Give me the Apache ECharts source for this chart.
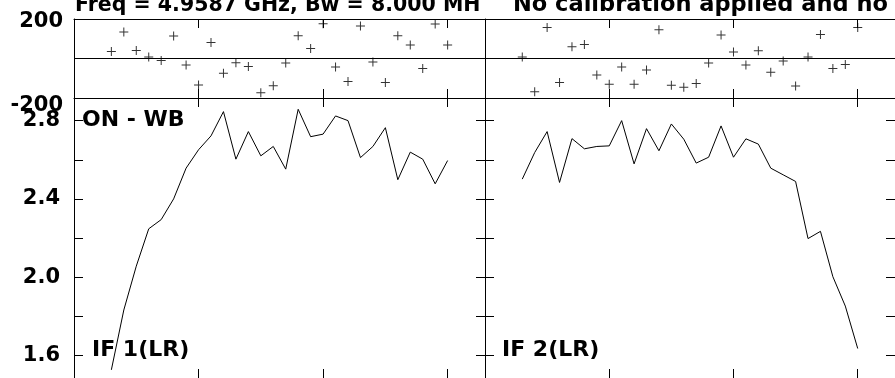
<!DOCTYPE html>
<html>
<head>
<meta charset="utf-8">
<script src="https://cdn.jsdelivr.net/npm/echarts@6/dist/echarts.min.js"></script>
<style>
html,body{margin:0;padding:0;background:#fff;}
#chart{width:895px;height:378px;}
</style>
</head>
<body>
<div id="chart"></div>
<script>
// ---- data ----
const channels = [3,4,5,6,7,8,9,10,11,12,13,14,15,16,17,18,19,20,21,22,23,24,25,26,27,28,29,30];
const phaseIF1 = [36,134,41,8,-10,114,-33,-134,81,-75,-21,-40,-173,-138,-23,115,51,176,-43,-117,164,-18,-121,115,68,-50,175,68];
const phaseIF2 = [8,-168,157,-121,60,71,-84,-131,-43,-131,-58,146,-136,-146,-126,-23,119,33,-33,39,-70,-13,-139,8,122,-50,-30,157];
const ampIF1 = [1.526,1.832,2.056,2.247,2.294,2.400,2.557,2.651,2.722,2.846,2.603,2.744,2.620,2.668,2.552,2.858,2.718,2.731,2.824,2.800,2.611,2.668,2.764,2.498,2.639,2.603,2.477,2.596];
const ampIF2 = [2.501,2.637,2.744,2.484,2.708,2.656,2.668,2.671,2.800,2.579,2.759,2.646,2.783,2.705,2.583,2.613,2.773,2.613,2.707,2.680,2.557,2.523,2.489,2.197,2.234,2.002,1.852,1.635];
const xTicks = [10,20,30];
const phaseLabels = [-200,200];
const ampLabels = [1.6,2.0,2.4,2.8];
const ampTicks = [1.6,1.8,2.0,2.2,2.4,2.6,2.8];
const titleLeft = 'Freq = 4.9587 GHz, Bw = 8.000 MH';
const titleRight = 'No calibration applied and no';
const panelNames = ['IF 1(LR)','IF 2(LR)'];
const sourceName = 'ON - WB';

// ---- layout ----
const FONT = '"DejaVu Sans", sans-serif';
const black = '#000';
const X_MIN = 0, X_MAX = 33;
const P_MIN = -200, P_MAX = 200;
const A_MIN = 1.4843, A_MAX = 2.9157;

const grids = [
  {left:74, top:19, width:411, height:79},
  {left:485, top:19, width:410, height:79},
  {left:74, top:98, width:411, height:281},
  {left:485, top:98, width:410, height:281}
];

function xAx(g, pos, line){
  return {type:'value', gridIndex:g, position:pos, min:X_MIN, max:X_MAX,
    axisLine:{show:line, onZero:false, lineStyle:{color:black, width:1}},
    axisTick:{show:true, inside:true, length:9, customValues:xTicks, lineStyle:{color:black, width:1}},
    axisLabel:{show:false}, splitLine:{show:false}};
}
function yAx(g, pos, min, max, line, ticks, labels, extra){
  const a = {type:'value', gridIndex:g, position:pos, min:min, max:max,
    axisLine:{show:line, onZero:false, lineStyle:{color:black, width:1}},
    axisTick:{show:!!ticks, inside:true, length:9, lineStyle:{color:black, width:1}},
    axisLabel:{show:!!labels, color:black, fontFamily:FONT, fontWeight:'bold', fontSize:21, margin:11},
    splitLine:{show:false}};
  if (ticks) a.axisTick.customValues = ticks;
  if (labels) a.axisLabel.customValues = labels;
  if (extra) Object.assign(a.axisLabel, extra);
  return a;
}

const plus = 'path://M0,4H9V5H0Z M4,0H5V9H4Z';

const chart = echarts.init(document.getElementById('chart'), null, {renderer:'canvas'});
chart.setOption({
  animation:false,
  backgroundColor:'#fff',
  grid: grids,
  xAxis: [
    xAx(0,'top',true), xAx(0,'bottom',true),
    xAx(1,'top',true), xAx(1,'bottom',true),
    xAx(2,'top',false), xAx(2,'bottom',false),
    xAx(3,'top',false), xAx(3,'bottom',false)
  ],
  yAxis: [
    yAx(0,'left',P_MIN,P_MAX,true,null,phaseLabels,{
      formatter: v => v > 0 ? '{a|' + v + '}' : '{b|' + v + '}',
      rich:{a:{fontFamily:FONT, fontWeight:'bold', fontSize:21, color:black, padding:[6,0,0,0]},
            b:{fontFamily:FONT, fontWeight:'bold', fontSize:21, color:black, padding:[16,0,0,0]}}
    }),
    yAx(1,'left',P_MIN,P_MAX,true,null,null),
    yAx(2,'left',A_MIN,A_MAX,true,ampTicks,ampLabels,{margin:14, formatter: v => v.toFixed(1)}),
    yAx(2,'right',A_MIN,A_MAX,false,ampTicks,null),
    yAx(3,'left',A_MIN,A_MAX,true,ampTicks,null),
    yAx(3,'right',A_MIN,A_MAX,true,ampTicks,null)
  ],
  series: [
    {type:'scatter', xAxisIndex:0, yAxisIndex:0, symbol:plus, symbolSize:9,
     itemStyle:{color:black}, silent:true,
     data: channels.map((c,i)=>[c, phaseIF1[i]]),
     markLine:{silent:true, symbol:'none', label:{show:false},
       lineStyle:{color:black, type:'solid', width:1}, data:[{yAxis:0}]}},
    {type:'scatter', xAxisIndex:2, yAxisIndex:1, symbol:plus, symbolSize:9,
     itemStyle:{color:black}, silent:true,
     data: channels.map((c,i)=>[c, phaseIF2[i]]),
     markLine:{silent:true, symbol:'none', label:{show:false},
       lineStyle:{color:black, type:'solid', width:1}, data:[{yAxis:0}]}},
    {type:'line', xAxisIndex:4, yAxisIndex:2, showSymbol:false, silent:true,
     lineStyle:{color:black, width:1}, data: channels.map((c,i)=>[c, ampIF1[i]])},
    {type:'line', xAxisIndex:6, yAxisIndex:4, showSymbol:false, silent:true,
     lineStyle:{color:black, width:1}, data: channels.map((c,i)=>[c, ampIF2[i]])}
  ],
  graphic: [
    {type:'text', x:75, y:5.5, silent:true,
     style:{text:titleLeft, fill:black, font:'bold 20.5px ' + FONT, verticalAlign:'middle'}},
    {type:'text', x:513, y:5.5, silent:true,
     style:{text:titleRight, fill:black, font:'bold 22.5px ' + FONT, verticalAlign:'middle'}},
    {type:'text', x:82, y:120, silent:true,
     style:{text:sourceName, fill:black, font:'bold 22px ' + FONT, verticalAlign:'middle'}},
    {type:'text', x:92, y:350, silent:true,
     style:{text:panelNames[0], fill:black, font:'bold 22px ' + FONT, verticalAlign:'middle'}},
    {type:'text', x:502, y:350, silent:true,
     style:{text:panelNames[1], fill:black, font:'bold 22px ' + FONT, verticalAlign:'middle'}}
  ]
});
</script>
</body>
</html>
